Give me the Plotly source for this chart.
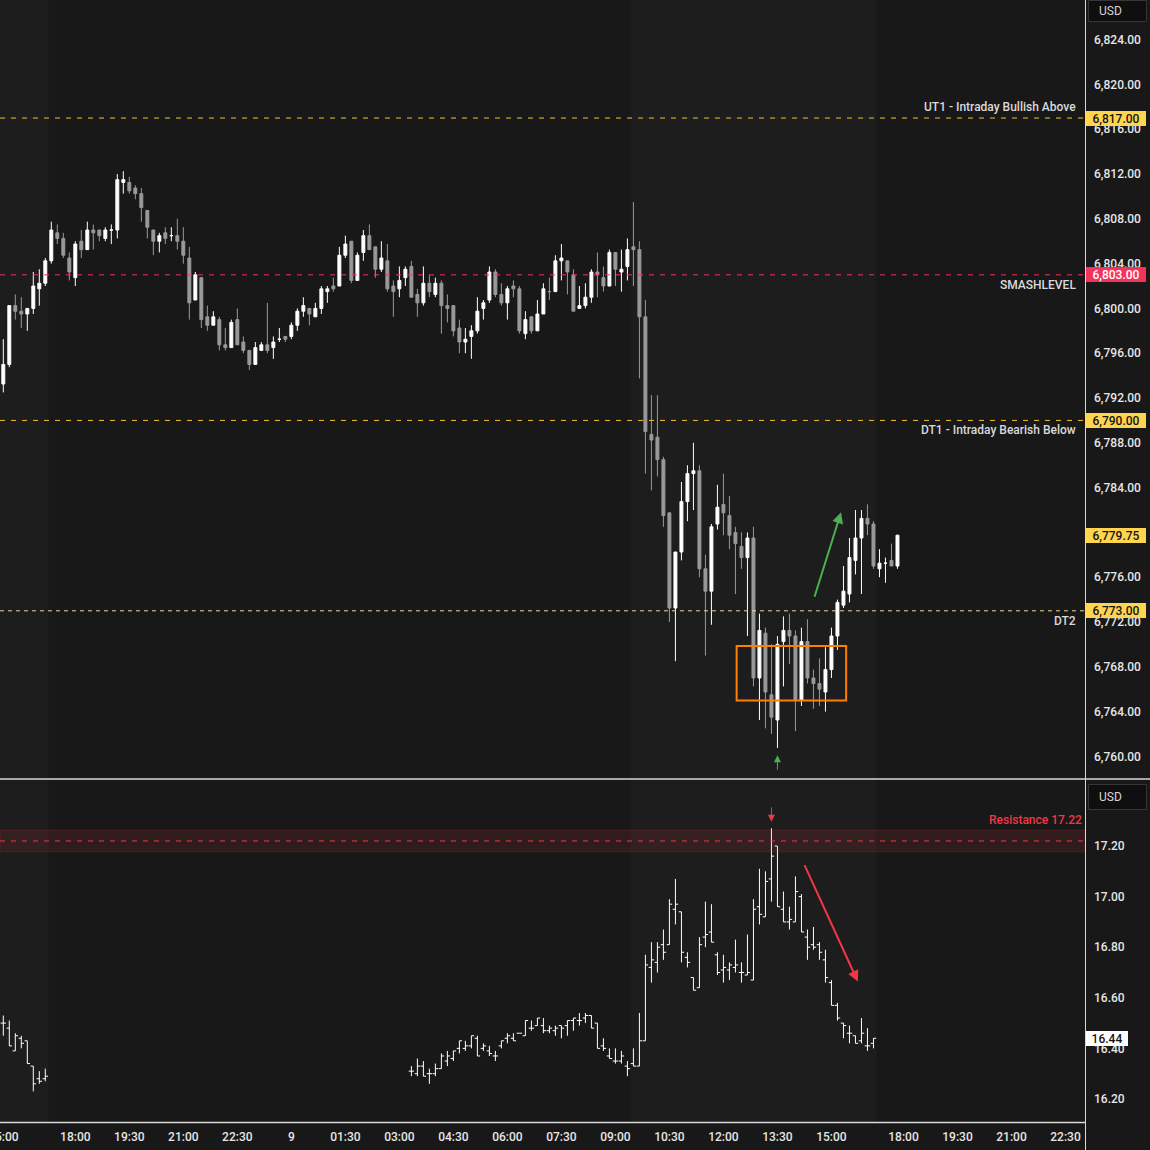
import plotly.graph_objects as go
import pandas as pd

W, H = 1150, 1150
FONT = "Roboto, 'Open Sans', sans-serif"

# ---------------- ES 10-minute candles ----------------
es_time = (list(pd.date_range("2025-10-08 15:00", "2025-10-08 16:50", freq="10min")) +
           list(pd.date_range("2025-10-08 18:00", "2025-10-09 16:50", freq="10min")))

es_open = [6793.25, 6795.0, 6800.25, 6799.75, 6799.5, 6800.0, 6801.75, 6802.25, 6804.25, 6806.75,
           6806.25, 6804.5, 6802.75, 6806.0, 6805.25, 6807.0, 6807.0, 6806.25, 6807.0, 6807.0,
           6811.25, 6811.25, 6810.75, 6810.25, 6808.75, 6807.0, 6806.0, 6806.75, 6806.5, 6806.5,
           6806.0, 6804.5, 6800.75, 6802.75, 6799.25, 6798.5, 6799.0, 6796.75, 6796.5, 6799.0,
           6797.0, 6796.25, 6795.0, 6796.25, 6796.75, 6796.5, 6797.25, 6797.5, 6797.5, 6798.5,
           6799.75, 6800.0, 6799.25, 6800.0, 6801.5, 6802.0, 6802.0, 6804.75, 6806.0, 6802.5,
           6805.0, 6806.5, 6805.5, 6803.5, 6804.25, 6802.0, 6801.75, 6802.75, 6803.75, 6801.25,
           6800.5, 6802.25, 6801.25, 6802.25, 6800.25, 6800.25, 6798.25, 6797.0, 6797.5, 6798.0,
           6800.0, 6800.75, 6803.25, 6801.25, 6800.5, 6802.0, 6801.75, 6797.75, 6799.25, 6798.0,
           6799.5, 6801.5, 6801.5, 6804.25, 6804.25, 6803.0, 6800.0, 6800.25, 6801.0, 6803.25,
           6802.75, 6802.0, 6805.0, 6803.25, 6803.75, 6805.5, 6805.25, 6799.25, 6788.75, 6788.5,
           6786.5, 6781.75, 6773.25, 6778.25, 6782.75, 6785.25, 6785.5, 6776.75, 6774.75, 6780.75,
           6782.5, 6781.5, 6780.0, 6778.75, 6777.75, 6779.5, 6767.0, 6771.0, 6765.5, 6763.25,
           6770.25, 6771.25, 6770.75, 6765.0, 6770.25, 6767.0, 6766.5, 6765.75, 6767.75, 6770.75,
           6773.5, 6774.5, 6777.5, 6779.5, 6781.25, 6780.75, 6776.75, 6777.25, 6777.5, 6777.0]
es_high = [6797.25, 6800.25, 6801.25, 6801.0, 6800.0, 6803.25, 6803.5, 6804.5, 6807.75, 6807.5,
           6806.75, 6805.0, 6806.0, 6807.0, 6807.75, 6807.5, 6807.0, 6807.25, 6807.5, 6812.0,
           6812.25, 6811.75, 6811.0, 6810.75, 6808.75, 6807.0, 6806.75, 6807.25, 6807.25, 6808.0,
           6807.25, 6805.5, 6803.25, 6802.75, 6800.25, 6799.75, 6799.25, 6798.25, 6799.0, 6800.0,
           6797.5, 6796.25, 6797.0, 6797.0, 6800.5, 6797.5, 6798.25, 6797.5, 6798.75, 6800.0,
           6801.0, 6800.0, 6800.5, 6802.0, 6802.0, 6802.75, 6805.5, 6806.5, 6806.0, 6805.0,
           6807.0, 6807.5, 6805.5, 6806.0, 6805.75, 6802.5, 6803.75, 6803.75, 6804.25, 6801.75,
           6803.75, 6803.0, 6802.75, 6802.5, 6801.25, 6800.25, 6799.0, 6798.25, 6798.5, 6801.0,
           6800.75, 6803.75, 6803.5, 6802.25, 6802.0, 6802.5, 6802.0, 6799.75, 6799.25, 6800.75,
           6802.25, 6802.75, 6804.75, 6805.75, 6804.25, 6803.5, 6802.0, 6802.25, 6803.5, 6805.0,
           6803.75, 6805.25, 6805.0, 6805.25, 6806.25, 6809.5, 6806.0, 6800.75, 6792.25, 6792.25,
           6786.75, 6781.75, 6778.25, 6784.5, 6786.0, 6788.0, 6786.0, 6778.0, 6780.75, 6784.25,
           6785.25, 6783.25, 6780.5, 6780.0, 6780.0, 6780.5, 6772.75, 6771.5, 6770.0, 6770.75,
           6772.5, 6772.75, 6771.25, 6771.5, 6772.25, 6767.75, 6768.75, 6769.75, 6771.5, 6774.0,
           6777.0, 6779.5, 6782.0, 6782.0, 6782.5, 6781.0, 6778.5, 6777.75, 6779.0, 6779.75]
es_low = [6792.5, 6794.75, 6799.0, 6798.25, 6798.0, 6799.5, 6800.25, 6802.0, 6804.0, 6805.75,
          6804.5, 6802.5, 6802.0, 6804.5, 6805.25, 6805.25, 6806.0, 6806.0, 6805.75, 6806.25,
          6810.25, 6810.25, 6809.75, 6807.75, 6806.25, 6804.75, 6805.0, 6805.75, 6806.0, 6805.25,
          6804.0, 6799.0, 6800.75, 6798.25, 6798.0, 6798.5, 6796.25, 6796.25, 6796.5, 6796.75,
          6796.0, 6794.5, 6795.0, 6796.25, 6796.0, 6795.5, 6797.0, 6797.0, 6797.25, 6798.0,
          6799.25, 6798.5, 6799.25, 6799.5, 6800.5, 6801.5, 6802.0, 6804.5, 6802.25, 6802.5,
          6804.25, 6805.25, 6802.75, 6803.25, 6801.5, 6799.25, 6801.0, 6802.0, 6801.0, 6799.25,
          6800.25, 6801.0, 6801.0, 6797.75, 6798.75, 6797.5, 6796.0, 6796.0, 6795.5, 6797.75,
          6799.0, 6800.5, 6801.0, 6800.25, 6799.0, 6801.0, 6797.75, 6797.25, 6797.75, 6798.0,
          6799.5, 6800.75, 6801.5, 6802.5, 6801.25, 6799.75, 6800.0, 6800.0, 6800.5, 6801.0,
          6801.5, 6802.0, 6802.0, 6801.5, 6802.5, 6802.0, 6793.75, 6785.25, 6783.75, 6785.0,
          6780.5, 6772.0, 6768.5, 6777.5, 6781.0, 6782.0, 6776.0, 6769.0, 6771.75, 6780.25,
          6779.75, 6778.5, 6774.5, 6776.75, 6770.75, 6766.25, 6763.25, 6762.5, 6762.0, 6760.75,
          6766.25, 6768.25, 6762.25, 6764.5, 6766.5, 6764.25, 6764.5, 6764.0, 6767.0, 6769.5,
          6773.25, 6773.75, 6776.25, 6774.5, 6779.75, 6776.75, 6776.0, 6775.5, 6777.0, 6776.75]
es_close = [6795.0, 6800.25, 6799.75, 6799.5, 6800.0, 6802.0, 6802.25, 6804.25, 6807.0, 6806.25,
            6804.75, 6803.25, 6805.75, 6805.25, 6807.0, 6806.75, 6806.5, 6807.0, 6807.0, 6811.5,
            6811.5, 6810.5, 6810.25, 6809.0, 6807.25, 6806.0, 6806.5, 6806.25, 6806.5, 6806.0,
            6804.75, 6800.5, 6803.0, 6799.0, 6798.5, 6799.25, 6796.75, 6796.5, 6798.75, 6796.75,
            6796.25, 6795.0, 6796.5, 6796.75, 6796.25, 6797.0, 6797.25, 6797.25, 6798.5, 6799.75,
            6800.25, 6799.5, 6800.0, 6801.75, 6801.75, 6801.75, 6804.75, 6805.75, 6802.5, 6804.75,
            6806.5, 6805.25, 6803.5, 6804.5, 6801.75, 6801.5, 6802.5, 6803.5, 6801.0, 6800.5,
            6802.25, 6801.5, 6802.25, 6800.25, 6800.0, 6798.0, 6797.0, 6797.25, 6798.0, 6799.75,
            6800.5, 6803.25, 6801.25, 6800.5, 6801.75, 6801.75, 6798.0, 6799.0, 6798.0, 6799.5,
            6801.75, 6801.5, 6804.25, 6804.5, 6803.25, 6799.75, 6800.25, 6801.0, 6803.25, 6803.0,
            6802.0, 6805.0, 6803.5, 6803.5, 6805.25, 6805.25, 6799.25, 6789.0, 6788.25, 6786.5,
            6781.5, 6773.25, 6778.25, 6782.75, 6785.25, 6785.5, 6776.75, 6774.75, 6780.5, 6782.25,
            6781.75, 6779.75, 6779.0, 6777.75, 6779.5, 6767.0, 6771.25, 6765.75, 6763.5, 6770.0,
            6771.25, 6770.75, 6765.0, 6770.25, 6767.0, 6766.5, 6766.0, 6767.75, 6770.75, 6773.75,
            6774.75, 6777.75, 6779.5, 6781.25, 6780.75, 6777.0, 6777.25, 6777.25, 6777.0, 6779.75]

# ---------------- VIX 10-minute bars ----------------
vix_time = (list(pd.date_range("2025-10-08 15:00", "2025-10-08 16:10", freq="10min")) +
            list(pd.date_range("2025-10-09 03:20", "2025-10-09 16:10", freq="10min")))

vix_open = [16.50, 16.48, 16.39, 16.44, 16.43, 16.33, 16.28, 16.28,
            16.31, 16.30, 16.33, 16.30, 16.30, 16.32, 16.35, 16.36, 16.40, 16.40,
            16.41, 16.44, 16.40, 16.39, 16.37, 16.41, 16.44, 16.44, 16.46, 16.45,
            16.48, 16.49, 16.49, 16.47, 16.47, 16.49, 16.49, 16.51, 16.51, 16.52,
            16.53, 16.50, 16.41, 16.37, 16.35, 16.35, 16.33, 16.34, 16.33, 16.43,
            16.72, 16.74, 16.81, 16.81, 16.95, 16.94, 16.76, 16.68, 16.64, 16.84,
            16.86, 16.77, 16.71, 16.71, 16.72, 16.70, 16.69, 16.67, 16.96, 16.92,
            17.07, 17.20, 16.95, 16.90, 16.90, 17.00, 16.84, 16.81, 16.81, 16.75,
            16.66, 16.57, 16.50, 16.46, 16.45, 16.43, 16.41, 16.42]
vix_high = [16.53, 16.51, 16.46, 16.45, 16.43, 16.33, 16.31, 16.32,
            16.33, 16.36, 16.35, 16.32, 16.34, 16.38, 16.39, 16.39, 16.43, 16.43,
            16.45, 16.45, 16.42, 16.41, 16.39, 16.43, 16.46, 16.46, 16.46, 16.51,
            16.51, 16.52, 16.52, 16.49, 16.49, 16.49, 16.51, 16.52, 16.54, 16.54,
            16.53, 16.50, 16.44, 16.40, 16.40, 16.39, 16.35, 16.40, 16.54, 16.77,
            16.82, 16.82, 16.87, 16.99, 17.07, 16.94, 16.78, 16.68, 16.84, 16.98,
            16.97, 16.78, 16.77, 16.74, 16.83, 16.74, 16.85, 16.99, 17.11, 17.10,
            17.27, 17.20, 17.02, 16.96, 17.08, 17.01, 16.87, 16.88, 16.82, 16.79,
            16.67, 16.58, 16.50, 16.49, 16.45, 16.52, 16.48, 16.44]
vix_low = [16.45, 16.41, 16.39, 16.40, 16.34, 16.23, 16.26, 16.27,
           16.29, 16.29, 16.29, 16.26, 16.29, 16.32, 16.33, 16.35, 16.38, 16.39,
           16.40, 16.37, 16.39, 16.37, 16.35, 16.40, 16.42, 16.43, 16.46, 16.45,
           16.47, 16.49, 16.46, 16.46, 16.45, 16.44, 16.45, 16.47, 16.49, 16.50,
           16.48, 16.40, 16.39, 16.36, 16.34, 16.34, 16.29, 16.33, 16.33, 16.43,
           16.66, 16.70, 16.75, 16.81, 16.89, 16.74, 16.72, 16.63, 16.64, 16.80,
           16.82, 16.69, 16.66, 16.67, 16.70, 16.66, 16.69, 16.67, 16.89, 16.92,
           16.98, 16.96, 16.90, 16.87, 16.90, 16.86, 16.75, 16.79, 16.75, 16.66,
           16.57, 16.51, 16.44, 16.42, 16.42, 16.42, 16.39, 16.40]
vix_close = [16.50, 16.41, 16.45, 16.42, 16.34, 16.26, 16.27, 16.29,
             16.31, 16.33, 16.29, 16.30, 16.32, 16.37, 16.37, 16.39, 16.43, 16.41,
             16.45, 16.37, 16.41, 16.38, 16.37, 16.43, 16.45, 16.43, 16.46, 16.51,
             16.48, 16.52, 16.47, 16.48, 16.48, 16.48, 16.51, 16.52, 16.51, 16.53,
             16.48, 16.40, 16.40, 16.36, 16.35, 16.37, 16.32, 16.33, 16.43, 16.73,
             16.75, 16.80, 16.78, 16.97, 16.97, 16.78, 16.74, 16.63, 16.81, 16.85,
             16.82, 16.70, 16.72, 16.73, 16.73, 16.70, 16.70, 16.95, 16.93, 17.06,
             17.16, 16.96, 16.90, 16.91, 17.02, 16.86, 16.80, 16.80, 16.78, 16.68,
             16.57, 16.52, 16.49, 16.46, 16.42, 16.46, 16.41, 16.44]

# ---------------- levels & labels ----------------
level_names = ["UT1 - Intraday Bullish Above", "SMASHLEVEL", "DT1 - Intraday Bearish Below", "DT2"]
level_values = [6817.0, 6803.0, 6790.0, 6773.0]
resistance_value = 17.22

es_tick_vals = [6760, 6764, 6768, 6772, 6776, 6780, 6784, 6788, 6792, 6796,
                6800, 6804, 6808, 6812, 6816, 6820, 6824]
vix_tick_vals = [16.2, 16.4, 16.6, 16.8, 17.0, 17.2]

time_tick_vals = ["2025-10-08 15:00", "2025-10-08 18:00", "2025-10-08 19:30", "2025-10-08 21:00",
                  "2025-10-08 22:30", "2025-10-09 00:00", "2025-10-09 01:30", "2025-10-09 03:00",
                  "2025-10-09 04:30", "2025-10-09 06:00", "2025-10-09 07:30", "2025-10-09 09:00",
                  "2025-10-09 10:30", "2025-10-09 12:00", "2025-10-09 13:30", "2025-10-09 15:00",
                  "2025-10-09 18:00", "2025-10-09 19:30", "2025-10-09 21:00", "2025-10-09 22:30"]
time_tick_text = ["15:00", "18:00", "19:30", "21:00", "22:30", "9", "01:30", "03:00", "04:30",
                  "06:00", "07:30", "09:00", "10:30", "12:00", "13:30", "15:00", "18:00",
                  "19:30", "21:00", "22:30"]

session_shades = [("2025-10-08 14:54:30", "2025-10-08 16:15"), ("2025-10-09 09:25", "2025-10-09 16:15")]
x_range = ["2025-10-08 14:54:30", "2025-10-09 23:02:30"]

# ---------------- styling ----------------
BG = "#181818"
SHADE = "#1d1d1d"
UP = "#ffffff"
DOWN = "#999999"
YELLOW = "#f2c12e"
YELLOW_LIGHT = "#ecd98a"
LABEL_YELLOW = "#ffd54f"
RED_LEVEL = "#f5325b"
RED = "#f23645"
GREEN = "#4caf50"
ORANGE = "#ff8000"
TXT = "#e6e6e6"
LINE = "#d9d9d9"

PX = 1.0 / W
PY = 1.0 / H
plot_right = 1085 * PX

fig = go.Figure()

fig.add_trace(go.Candlestick(
    x=es_time, open=es_open, high=es_high, low=es_low, close=es_close,
    xaxis="x", yaxis="y",
    increasing=dict(fillcolor=UP, line=dict(color=UP, width=1)),
    decreasing=dict(fillcolor=DOWN, line=dict(color=DOWN, width=1)),
    whiskerwidth=0, showlegend=False, hoverinfo="skip"))

fig.add_trace(go.Ohlc(
    x=vix_time, open=vix_open, high=vix_high, low=vix_low, close=vix_close,
    xaxis="x2", yaxis="y2", tickwidth=0.45,
    increasing=dict(line=dict(color="#ffffff", width=1)),
    decreasing=dict(line=dict(color="#ffffff", width=1)),
    showlegend=False, hoverinfo="skip"))

shapes = []
for x0, x1 in session_shades:
    shapes.append(dict(type="rect", xref="x", yref="paper", x0=x0, x1=x1,
                       y0=1 - 1122 * PY, y1=1, fillcolor=SHADE, line=dict(width=0), layer="below"))

level_colors = [YELLOW, RED_LEVEL, YELLOW, YELLOW_LIGHT]
level_dash = ["5px,6px", "5px,6px", "5px,6px", "4px,4px"]
for v, c, d in zip(level_values, level_colors, level_dash):
    shapes.append(dict(type="line", xref="paper", yref="y", x0=0, x1=plot_right, y0=v, y1=v,
                       line=dict(color=c, width=1, dash=d)))

shapes.append(dict(type="rect", xref="x", yref="y", x0="2025-10-09 12:22", x1="2025-10-09 15:24:30",
                   y0=6765.0, y1=6769.85, line=dict(color=ORANGE, width=2), fillcolor="rgba(0,0,0,0)"))

shapes.append(dict(type="rect", xref="paper", yref="y2", x0=0, x1=plot_right,
                   y0=resistance_value - 0.043, y1=resistance_value + 0.043,
                   fillcolor="rgba(242,54,69,0.11)", line=dict(color="rgba(242,54,69,0.18)", width=1)))
shapes.append(dict(type="line", xref="paper", yref="y2", x0=0, x1=plot_right,
                   y0=resistance_value, y1=resistance_value, line=dict(color=RED, width=1, dash="5px,6px")))

shapes.append(dict(type="line", xref="paper", yref="paper", x0=1085.5 * PX, x1=1085.5 * PX, y0=0, y1=1,
                   line=dict(color=LINE, width=1)))
shapes.append(dict(type="line", xref="paper", yref="paper", x0=0, x1=1, y0=1 - 779 * PY, y1=1 - 779 * PY,
                   line=dict(color=LINE, width=1.5)))
shapes.append(dict(type="line", xref="paper", yref="paper", x0=0, x1=plot_right,
                   y0=1 - 1122.5 * PY, y1=1 - 1122.5 * PY, line=dict(color=LINE, width=1.5)))

for yc, hh in [(11, 21), (797, 25)]:
    shapes.append(dict(type="rect", xref="paper", yref="paper", x0=1088.5 * PX, x1=1146.5 * PX,
                       y0=1 - (yc + hh / 2) * PY, y1=1 - (yc - hh / 2) * PY,
                       fillcolor="#0f0f0f", line=dict(color="#363636", width=1)))

annotations = []
for yc in [11, 797]:
    annotations.append(dict(x=1097 * PX, xref="paper", xanchor="left", y=1 - yc * PY, yref="paper",
                            yanchor="middle", text="USD", showarrow=False,
                            font=dict(family=FONT, size=12, color="#d6d6d6")))

level_shift = [11, -10, -10, -10]
for name, v, s in zip(level_names, level_values, level_shift):
    annotations.append(dict(x=1078 * PX, xref="paper", xanchor="right", y=v, yref="y", yanchor="middle",
                            yshift=s, text=name, showarrow=False,
                            font=dict(family=FONT, size=12, color="#dadada", weight=500)))

annotations.append(dict(x=1084 * PX, xref="paper", xanchor="right", y=resistance_value, yref="y2",
                        yanchor="middle", yshift=21, text=f"Resistance {resistance_value:.2f}",
                        showarrow=False, font=dict(family=FONT, size=12, color=RED, weight=500)))


def axis_label(val, yref, text, bg, fg, width=60):
    annotations.append(dict(x=1086 * PX, xref="paper", xanchor="left", y=val, yref=yref, yanchor="middle",
                            text=text, showarrow=False, bgcolor=bg, borderpad=0, borderwidth=0,
                            width=width, height=15, align="center",
                            font=dict(family=FONT, size=12, color=fg, weight=500)))


label_bgs = [LABEL_YELLOW, RED_LEVEL, LABEL_YELLOW, LABEL_YELLOW]
label_fgs = ["#141414", "#ffffff", "#141414", "#141414"]
for v, bg, fg in zip(level_values, label_bgs, label_fgs):
    axis_label(v, "y", f"{v:,.2f}", bg, fg)
axis_label(es_close[-1], "y", f"{es_close[-1]:,.2f}", LABEL_YELLOW, "#141414")
axis_label(vix_close[-1], "y2", f"{vix_close[-1]:.2f}", "#ffffff", "#141414", width=42)

annotations.append(dict(x="2025-10-09 15:16", y=6781.8, xref="x", yref="y", ax=-27, ay=86,
                        showarrow=True, arrowhead=2, arrowsize=1.1, arrowwidth=2, arrowcolor=GREEN, text=""))
annotations.append(dict(x="2025-10-09 13:30", y=6760.1, xref="x", yref="y", ax=0, ay=16,
                        showarrow=True, arrowhead=2, arrowsize=1.4, arrowwidth=1, arrowcolor=GREEN, text=""))
annotations.append(dict(x="2025-10-09 13:20", y=17.296, xref="x2", yref="y2", ax=0, ay=-16,
                        showarrow=True, arrowhead=2, arrowsize=1.4, arrowwidth=1, arrowcolor=RED, text=""))
annotations.append(dict(x="2025-10-09 15:44", y=16.664, xref="x2", yref="y2", ax=-54, ay=-118,
                        showarrow=True, arrowhead=2, arrowsize=1.1, arrowwidth=2, arrowcolor=RED, text=""))

breaks = [dict(bounds=[17, 18], pattern="hour")]
tickfont = dict(family=FONT, size=12, color=TXT, weight=500)

fig.update_layout(
    width=W, height=H, margin=dict(l=0, r=0, t=0, b=0, autoexpand=False),
    paper_bgcolor=BG, plot_bgcolor="rgba(0,0,0,0)",
    showlegend=False, hovermode=False,
    shapes=shapes, annotations=annotations,
    xaxis=dict(domain=[0, plot_right], anchor="y", type="date", range=x_range, rangebreaks=breaks,
               showticklabels=False, showgrid=False, zeroline=False, showline=False, ticks="",
               automargin=False, rangeslider=dict(visible=False)),
    xaxis2=dict(domain=[0, plot_right], anchor="y2", type="date", range=x_range, rangebreaks=breaks,
                matches="x", tickmode="array", tickvals=time_tick_vals, ticktext=time_tick_text,
                showgrid=False, zeroline=False, showline=False, ticks="", tickfont=tickfont,
                ticklabelstandoff=6, ticklabeloverflow="allow", automargin=False,
                rangeslider=dict(visible=False)),
    yaxis=dict(domain=[1 - 778 * PY, 1], anchor="x", side="right", range=[6758.07, 6827.54],
               tickmode="array", tickvals=es_tick_vals, tickformat=",.2f",
               showgrid=False, zeroline=False, showline=False, ticks="", tickfont=tickfont,
               ticklabelstandoff=8, automargin=False),
    yaxis2=dict(domain=[1 - 1122 * PY, 1 - 780 * PY], anchor="x2", side="right", range=[16.109, 17.461],
                tickmode="array", tickvals=vix_tick_vals, tickformat=".2f",
                showgrid=False, zeroline=False, showline=False, ticks="", tickfont=tickfont,
                ticklabelstandoff=8, automargin=False),
)

fig.write_html("out.html", config={"displayModeBar": False},
               post_script="document.body.style.margin='0';document.body.style.background='#181818';")
